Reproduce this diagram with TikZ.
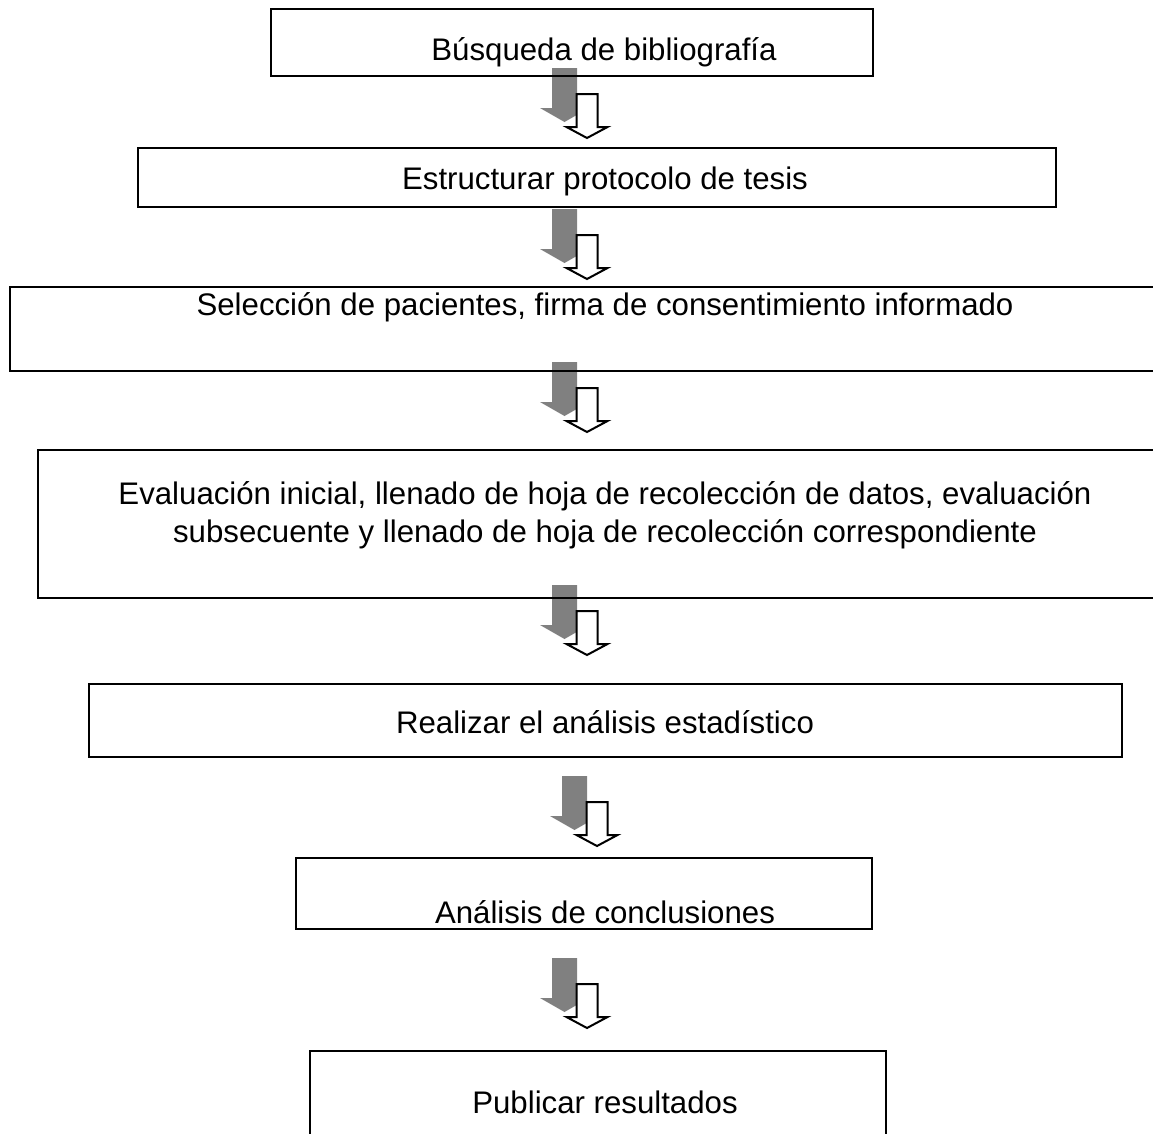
\documentclass[tikz,border=0pt]{standalone}
\usepackage{fontspec}
\setmainfont{Liberation Sans}
\usepackage{tikz}
\usetikzlibrary{fit, calc}
\definecolor{sombragris}{RGB}{128, 128, 128}

\tikzset{
  caja/.style={draw=black, line width=0.75pt, inner sep=0pt},
  texto/.style={anchor=base, inner sep=0pt, align=center,
                font=\fontsize{11.7}{13.9}\selectfont},
  flecha/.pic={
    % grey shadow, a bit larger and up-left
    \fill[sombragris] (-35,-26) -- (-10,-26) -- (-10,14) -- (2,14)
      -- (-22.5,28) -- (-47,14) -- (-35,14) -- cycle;
    % white block arrow
    \draw[fill=white, line width=0.75pt, line join=miter]
      (-10.5,0) -- (10.5,0) -- (10.5,33) -- (20.5,33) -- (0,44)
      -- (-20.5,33) -- (-10.5,33) -- cycle;
  }
}

\begin{document}
\begin{tikzpicture}[x=0.375pt, y=-0.375pt]
  \useasboundingbox (0,0) rectangle (1153,1133);

  % Block arrows between the steps
  \coordinate (f1) at (587,94);
  \coordinate (f2) at (587,235);
  \coordinate (f3) at (587,388);
  \coordinate (f4) at (587,611);
  \coordinate (f5) at (597,802);
  \coordinate (f6) at (587,984);
  \foreach \f in {f1,f2,f3,f4,f5,f6}
    \pic at (\f) {flecha};

  % Boxes
  \node[caja, fit={(271,9) (873,76)}] (b1) {};
  \node[caja, fit={(138,148) (1056,207)}] (b2) {};
  \node[caja, fit={(10,287) (1165,371)}] (b3) {};
  \node[caja, fit={(38,450) (1165,598)}] (b4) {};
  \node[caja, fit={(89,684) (1122,757)}] (b5) {};
  \node[caja, fit={(296,858) (872,929)}] (b6) {};
  \node[caja, fit={(310,1051) (886,1145)}] (b7) {};

  % Texts
  \node[texto] (t1) at (604,60) {Búsqueda de bibliografía};
  \node[texto] (t2) at (605,189) {Estructurar protocolo de tesis};
  \node[texto] (t3) at (605,315)
    {Selección de pacientes, firma de consentimiento informado};
  \node[texto] (t4) at (605,542)
    {Evaluación inicial, llenado de hoja de recolección de datos, evaluación\\
     subsecuente y llenado de hoja de recolección correspondiente};
  \node[texto] (t5) at (605,733) {Realizar el análisis estadístico};
  \node[texto] (t6) at (605,923) {Análisis de conclusiones};
  \node[texto] (t7) at (605,1113) {Publicar resultados};
\end{tikzpicture}
\end{document}
